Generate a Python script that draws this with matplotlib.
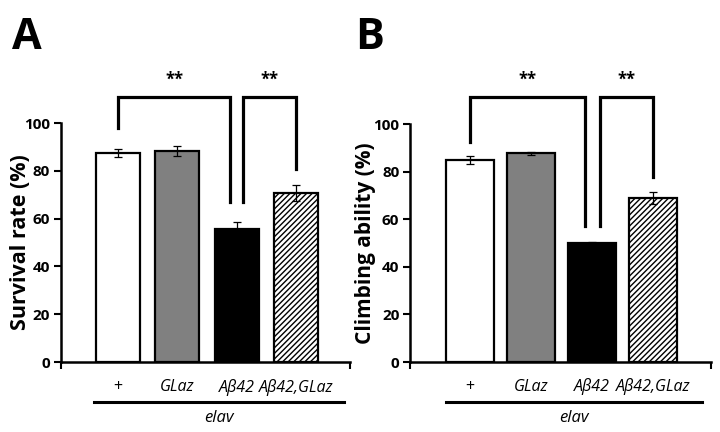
import numpy as np
import matplotlib.pyplot as plt
from matplotlib.transforms import blended_transform_factory

plt.rcParams['font.family'] = ['Open Sans', 'DejaVu Sans']

groups = ["+", "GLaz", "Aβ42", "Aβ42,GLaz"]
survival = [87.5, 88.4, 55.8, 70.7]
survival_err = [1.8, 2.2, 3.0, 3.3]
climbing = [84.9, 87.8, 50.2, 69.0]
climbing_err = [1.6, 0.8, 0.4, 2.7]
driver = "elav"
stars = "**"

face_colors = ['white', '#808080', 'black', 'white']
hatches = [None, None, None, '//////']


def draw_panel(ax, values, errs, ylabel, label_x, label_size, brackets, xlim, width):
    x = np.arange(len(groups))
    for i in range(len(groups)):
        ax.bar(x[i], values[i], width=width, color=face_colors[i],
               edgecolor='black', linewidth=1.6, hatch=hatches[i], zorder=2)
    ax.errorbar(x, values, yerr=errs, fmt='none', ecolor='black',
                elinewidth=0.9, capsize=3, capthick=0.9, zorder=3)

    ax.set_xlim(*xlim)
    ax.set_ylim(0, 100)
    ax.set_yticks([0, 20, 40, 60, 80, 100])
    ax.tick_params(axis='y', direction='out', length=5, width=1.5,
                   labelsize=11, pad=3)
    for lab in ax.get_yticklabels():
        lab.set_fontweight('bold')
    ax.set_xticks([])
    ax.set_xticks(list(xlim), minor=True)
    ax.tick_params(axis='x', which='minor', direction='out', length=5, width=1.5)
    ax.set_xticklabels([], minor=True)

    for side in ['top', 'right']:
        ax.spines[side].set_visible(False)
    for side in ['left', 'bottom']:
        ax.spines[side].set_linewidth(1.8)

    ax.set_ylabel(ylabel, fontsize=label_size, fontweight='bold', va='center')
    ax.yaxis.set_label_coords(label_x, 0.5)

    tr = blended_transform_factory(ax.transData, ax.transAxes)
    for i, g in enumerate(groups):
        ax.text(x[i], -0.105, g, transform=tr, ha='center', va='center',
                fontsize=11.5, style='normal' if g == '+' else 'italic')
    ax.plot([-0.4, 3.8], [-0.168, -0.168], transform=tr, color='black',
            lw=2.2, clip_on=False)
    ax.text(1.7, -0.235, driver, transform=tr, ha='center', va='center',
            fontsize=12, style='italic')

    for x0, x1, y0, y1, top in brackets:
        ax.plot([x0, x0, x1, x1], [y0, top, top, y1], color='black',
                lw=2.3, clip_on=False, solid_joinstyle='miter')
        ax.text((x0 + x1) / 2, top + 3.5, stars, ha='center', va='bottom',
                fontsize=12, fontweight='bold')


fig = plt.figure(figsize=(7.2, 4.32), dpi=100)
ax1 = fig.add_axes([0.085, 0.162, 0.401, 0.553])
ax2 = fig.add_axes([0.570, 0.162, 0.418, 0.550])

draw_panel(ax1, survival, survival_err, "Survival rate (%)", -0.142, 15.5,
           [(0, 1.89, 98, 67, 111), (2.11, 3, 67, 80.8, 111)],
           (-0.95, 3.9), 0.74)
draw_panel(ax2, climbing, climbing_err, "Climbing ability (%)", -0.148, 15,
           [(0, 1.89, 92.6, 57.1, 111.5), (2.14, 3, 57.1, 77.9, 111.5)],
           (-0.98, 3.96), 0.78)

fig.text(0.016, 0.886, "A", fontsize=31, fontweight='bold', va='baseline')
fig.text(0.493, 0.886, "B", fontsize=31, fontweight='bold', va='baseline')

fig.savefig("out.png", dpi=100)
